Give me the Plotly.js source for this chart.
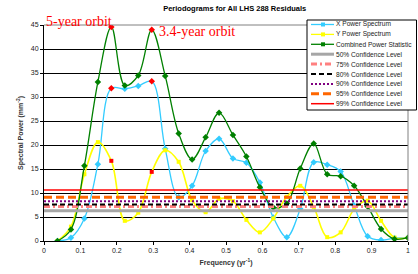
<!DOCTYPE html>
<html><head><meta charset="utf-8">
<script src="https://cdn.plot.ly/plotly-3.0.1.min.js"></script>
<style>html,body{margin:0;padding:0;background:#fff}#chart{width:418px;height:274px}</style>
</head><body><div id="chart"></div>
<script>
// ---- data ----
const freq = [0.037,0.074,0.111,0.148,0.185,0.222,0.259,0.296,0.333,0.370,0.407,0.444,0.481,0.519,0.556,0.593,0.630,0.667,0.704,0.741,0.778,0.815,0.852,0.889,0.926,0.963,1.000];
const xPower = [0,0.7,4.7,16.0,31.8,31.7,32.3,33.3,19.2,9.1,11.5,18.75,21.3,17.2,16.3,12.2,4.9,0.8,6.7,16.4,15.9,14.5,7.4,1.0,0.2,0.6,0.7];
const yPower = [0,3.0,13.9,20.6,16.7,4.2,5.9,14.4,18.9,16.5,8.5,6.0,8.8,8.3,4.4,1.8,4.7,9.2,11.5,7.1,0.8,1.8,6.6,8.4,4.2,0.7,0.7];
const combined = [0,2.4,15.7,33.1,44.6,32.4,34.5,44.0,34.4,22.4,17.0,21.6,26.7,22.1,17.6,11.2,7.0,7.8,15.1,20.3,13.9,13.5,11.5,7.2,2.5,0.4,0.7];
const seriesNames = ['X Power Spectrum','Y Power Spectrum','Combined Power Statistic'];
const confNames = ['50% Confidence Level','75% Confidence Level','80% Confidence Level','90% Confidence Level','95% Confidence Level','99% Confidence Level'];
const confLevels = [6.3,7.2,7.6,8.3,9.1,10.6];
const confSpan = [0,1];
const highlightIdx = [4,7];
const orbitLabels = ['5-year orbit','3.4-year orbit'];
const orbitFreq = [0,0.31];
const orbitPower = [45.7,43.6];
const xTickVals = [0,0.1,0.2,0.3,0.4,0.5,0.6,0.7,0.8,0.9,1];
const xTickText = ['0','0.1','0.2','0.3','0.4','0.5','0.6','0.7','0.8','0.9','1'];
const yTickVals = [0,5,10,15,20,25,30,35,40,45];
const Y_MAX = 45;

// ---- styles ----
const seriesStyles = [
  {color:'#33CCFF', symbol:'diamond', size:5, width:1.3},
  {color:'#FFFF00', symbol:'square', size:4, width:1.6},
  {color:'#008000', symbol:'diamond', size:5, width:1.3}
];
const confStyles = [
  {color:'#A6A6A6', width:3, dash:'solid'},
  {color:'#FF8080', width:3, dash:'6px,3px,2px,3px'},
  {color:'#000000', width:2, dash:'5px,3px'},
  {color:'#800080', width:2, dash:'2px,2px'},
  {color:'#FF6600', width:3, dash:'8px,4px'},
  {color:'#FF0000', width:1.5, dash:'solid'}
];
const FONT = 'Liberation Sans, Arial, sans-serif';
const L = 44, R = 10, T = 25, B = 33, W = 418, H = 274;
const PW = W - L - R, PH = H - T - B;
const px = x => (x - L) / PW;
const py = y => (H - B - y) / PH;

const allSeries = [xPower, yPower, combined];
const traces = [];
allSeries.forEach((vals, i) => {
  const s = seriesStyles[i];
  traces.push({
    type:'scatter', mode:'lines+markers', x:freq, y:vals, name:seriesNames[i],
    line:{color:s.color, width:s.width, shape:'spline', smoothing:1},
    marker:{symbol:s.symbol, size:s.size, color:vals.map((v,j)=>highlightIdx.includes(j)?'#FF0000':s.color)},
    showlegend:false, hoverinfo:'skip'
  });
});
confLevels.forEach((lv, i) => {
  const s = confStyles[i];
  traces.push({
    type:'scatter', mode:'lines', x:confSpan, y:confSpan.map(()=>lv), name:confNames[i],
    line:{color:s.color, width:s.width, dash:s.dash}, showlegend:false, hoverinfo:'skip'
  });
});

// ---- custom legend (compact like the original) ----
const shapes = [
  {type:'line', xref:'paper', yref:'paper', x0:0, x1:1, y0:1, y1:1, line:{color:'#808080', width:1}, layer:'above'},
  {type:'line', xref:'paper', yref:'paper', x0:1, x1:1, y0:0, y1:1, line:{color:'#808080', width:1}, layer:'above'},
  {type:'rect', xref:'paper', yref:'paper', x0:px(307), x1:px(416.5), y0:py(20), y1:py(110), fillcolor:'#FFFFFF', line:{color:'#000', width:1}, layer:'above'}
];
const annotations = [];
const legendNames = seriesNames.concat(confNames);
legendNames.forEach((nm, i) => {
  const yc = 24.5 + i * 9.9;
  let st;
  if (i < 3) st = {color:seriesStyles[i].color, width:1.3, dash:'solid'};
  else st = confStyles[i-3];
  shapes.push({type:'line', xref:'paper', yref:'paper', x0:px(311), x1:px(334), y0:py(yc), y1:py(yc),
    line:{color:st.color, width:Math.min(st.width,3), dash:st.dash}, layer:'above'});
  if (i < 3) {
    shapes.push({type:'rect', xref:'paper', yref:'paper', x0:px(321), x1:px(325), y0:py(yc-2), y1:py(yc+2),
      fillcolor:seriesStyles[i].color, line:{width:0}, layer:'above'});
  }
  annotations.push({xref:'paper', yref:'paper', x:px(333.5), y:py(yc), xanchor:'left', yanchor:'middle',
    text:nm, showarrow:false, font:{family:FONT, size:6.6, color:'#222'}});
});
orbitLabels.forEach((t, i) => {
  annotations.push({xref:'paper', yref:'paper', x:orbitFreq[i], y:orbitPower[i] / Y_MAX, xanchor:'left', yanchor:'middle',
    text:t, showarrow:false, font:{family:'Liberation Serif, Times New Roman, serif', size:14, color:'#FF0000'}});
});

const layout = {
  width:W, height:H, margin:{l:L, r:R, t:T, b:B, pad:0},
  paper_bgcolor:'#fff', plot_bgcolor:'#fff',
  title:{text:'<b>Periodograms for All LHS 288 Residuals</b>', font:{family:FONT, size:7.5, color:'#000'},
    x:0.524, xanchor:'center', y:0.97, yanchor:'middle', xref:'paper'},
  xaxis:{range:[0,1], tickvals:xTickVals, ticktext:xTickText, showgrid:false, zeroline:false,
    showline:true, linecolor:'#000', linewidth:1, ticks:'outside', ticklen:3, tickcolor:'#000',
    tickfont:{family:FONT, size:7, color:'#222'},
    title:{text:'<b>Frequency (yr<sup>-1</sup>)</b>', font:{family:FONT, size:7, color:'#333'}, standoff:6}},
  yaxis:{range:[0,Y_MAX], tickvals:yTickVals, showgrid:true, gridcolor:'#000', gridwidth:1, zeroline:false,
    showline:true, linecolor:'#000', linewidth:1, ticks:'outside', ticklen:3, tickcolor:'#000',
    tickfont:{family:FONT, size:7, color:'#222'},
    title:{text:'<b>Spectral Power (mm<sup>-2</sup>)</b>', font:{family:FONT, size:7, color:'#333'}, standoff:6}},
  shapes:shapes, annotations:annotations, showlegend:false
};
Plotly.newPlot('chart', traces, layout, {staticPlot:true, displayModeBar:false});
</script></body></html>
